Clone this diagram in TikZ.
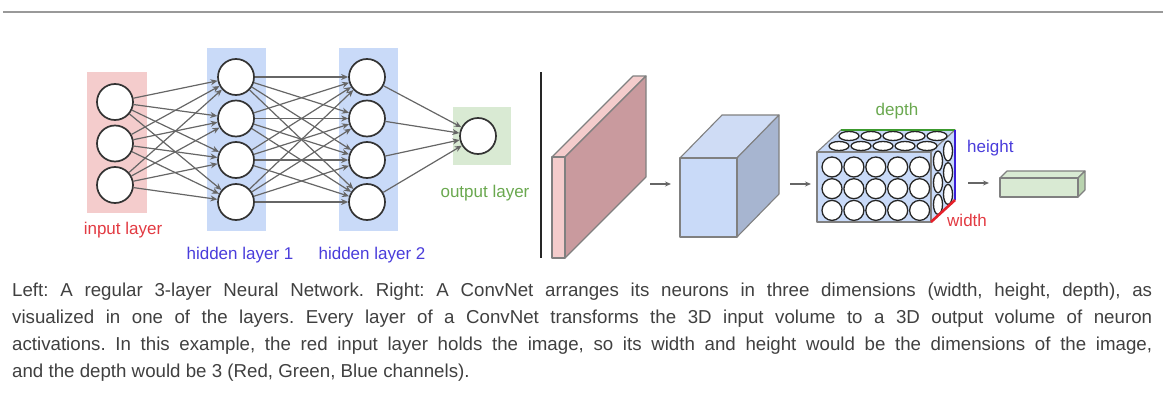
\documentclass[tikz,border=0pt]{standalone}
\usepackage{fontspec}
\setmainfont{Liberation Sans}
\usetikzlibrary{arrows.meta}

\definecolor{redfill}{HTML}{F4CCCC}
\definecolor{redside}{HTML}{C99A9E}
\definecolor{bluefill}{HTML}{C9DAF8}
\definecolor{bluetop}{HTML}{CFDCF5}
\definecolor{blueside}{HTML}{A7B5D0}
\definecolor{greenfill}{HTML}{D9EAD3}
\definecolor{greenside}{HTML}{B9D3AF}
\definecolor{redtext}{HTML}{E23A42}
\definecolor{bluetext}{HTML}{4A3DDB}
\definecolor{greentext}{HTML}{6AA84F}
\definecolor{redline}{HTML}{E5202A}
\definecolor{blueline}{HTML}{3A1FD8}
\definecolor{greenline}{HTML}{3C9A2E}
\definecolor{captext}{HTML}{404040}

% box: front top-left corner, width, height, depth dx, depth dy (up), front, top, side
\newcommand{\volbox}[8]{%
  \draw[boxedge, fill=#7] (#1) -- ++(#4,-#5) -- ++(#2,0) -- ++(-#4,#5) -- cycle;
  \draw[boxedge, fill=#8] (#1) ++(#2,0) -- ++(#4,-#5) -- ++(0,#3) -- ++(-#4,#5) -- cycle;
  \draw[boxedge, fill=#6] (#1) rectangle ++(#2,#3);
}

\begin{document}
\begin{tikzpicture}[x=1pt,y=-1pt]
        \tikzstyle{every node} = [inner sep=0pt]
        \tikzstyle{neuron} = [circle, draw=black!80, line width=1.7pt, fill=white, minimum size=36pt]
        \tikzstyle{link} = [draw=black!60, line width=1.2pt, -{Stealth[length=7pt,width=6pt]}]
        \tikzstyle{boxedge} = [draw=black!50, line width=1.1pt, line join=round]
        \tikzstyle{label} = [font=\fontsize{17}{20}\selectfont, anchor=base]
        \useasboundingbox (0,0) rectangle (1166,396);
        \draw[black!40, line width=1.5pt] (3,12) -- (1163,12);

        % layer backgrounds
        \fill[redfill] (87,72) rectangle (147,213);
        \fill[bluefill] (207,48) rectangle (266,231);
        \fill[bluefill] (339,48) rectangle (398,231);
        \fill[greenfill] (453,107) rectangle (511,165);

        % neurons
        \node[neuron] (in1) at (115,102) {};
        \node[neuron] (in2) at (115,143.5) {};
        \node[neuron] (in3) at (115,185) {};
        \foreach \i/\y in {1/77, 2/118.5, 3/160, 4/202} {
            \node[neuron] (ha\i) at (236,\y) {};
            \node[neuron] (hb\i) at (367,\y) {};
        }
        \node[neuron] (out) at (478,136) {};
        \foreach \from in {in1, in2, in3}
            \foreach \to in {ha1, ha2, ha3, ha4}
                \draw[link] (\from) -- (\to);
        \foreach \from in {ha1, ha2, ha3, ha4}
            \foreach \to in {hb1, hb2, hb3, hb4}
                \draw[link] (\from) -- (\to);
        \foreach \from in {hb1, hb2, hb3, hb4}
            \draw[link] (\from) -- (out);

        \node[label, text=redtext] (inlbl) at (123,234) {input layer};
        \node[label, text=bluetext] (halbl) at (240,259) {hidden layer 1};
        \node[label, text=bluetext] (hblbl) at (372,259) {hidden layer 2};
        \node[label, text=greentext] (outlbl) at (485,197) {output layer};

        \draw[black!85, line width=1.3pt] (541,72) -- (541,258);

        % volumes
        \volbox{552,157}{13}{101}{81}{81}{redfill}{redfill}{redside}
        \volbox{680,158}{57}{79}{42}{43}{bluefill}{bluetop}{blueside}
        \volbox{817,152}{114}{70}{24}{22}{bluefill}{bluefill}{bluefill}
        \volbox{1000,178}{78}{19}{7}{7}{greenfill}{greenfill}{greenside}

        % neurons of the middle volume
        \foreach \c in {0,...,4} {
            \draw[black!85, line width=1.3pt, fill=white] ({849+22*\c},136) ellipse [x radius=10pt, y radius=4.5pt];
            \draw[black!85, line width=1.3pt, fill=white] ({839+22*\c},146) ellipse [x radius=10pt, y radius=4.5pt];
        }
        \foreach \r in {0,1,2} {
            \draw[black!85, line width=1.3pt, fill=white] (948,{151+21.7*\r}) ellipse [x radius=4.5pt, y radius=10pt];
            \draw[black!85, line width=1.3pt, fill=white] (938,{161+21.7*\r}) ellipse [x radius=4.5pt, y radius=10pt];
        }
        \foreach \c in {0,...,4}
            \foreach \r in {0,1,2}
                \draw[black!85, line width=1.3pt, fill=white] ({832+21.9*\c},{167+21.7*\r}) circle [radius=10pt];

        \draw[greenline, line width=2.6pt] (841,130) -- (955,130);
        \draw[blueline, line width=2.6pt] (955,130) -- (955,200);
        \draw[redline, line width=2.6pt] (931,222) -- (955,200);
        \node[label, text=greentext] (dlbl) at (897,115) {depth};
        \node[label, text=bluetext, anchor=base west] (hlbl) at (967,152) {height};
        \node[label, text=redtext, anchor=base west] (wlbl) at (947,226) {width};

        % arrows between volumes
        \coordinate (s1) at (650,184);
        \coordinate (e1) at (671,184);
        \coordinate (s2) at (790,184);
        \coordinate (e2) at (811,184);
        \coordinate (s3) at (968,183);
        \coordinate (e3) at (989,183);
        \foreach \from/\to in {s1/e1, s2/e2, s3/e3}
            \draw[draw=black!60, line width=1.2pt, -{Stealth[length=6pt,width=5pt]}] (\from) -- (\to);

        \node[anchor=base west, text width=1140pt, align=justify, text=captext,
              font=\fontsize{18.7}{27}\selectfont\frenchspacing] (caption) at (12,296)
            {Left: A regular 3-layer Neural Network. Right: A ConvNet arranges its neurons in three dimensions (width, height, depth), as\linebreak
             visualized in one of the layers. Every layer of a ConvNet transforms the 3D input volume to a 3D output volume of neuron\linebreak
             activations. In this example, the red input layer holds the image, so its width and height would be the dimensions of the image,\linebreak
             and the depth would be 3 (Red, Green, Blue channels).};
    \end{tikzpicture}
\end{document}
